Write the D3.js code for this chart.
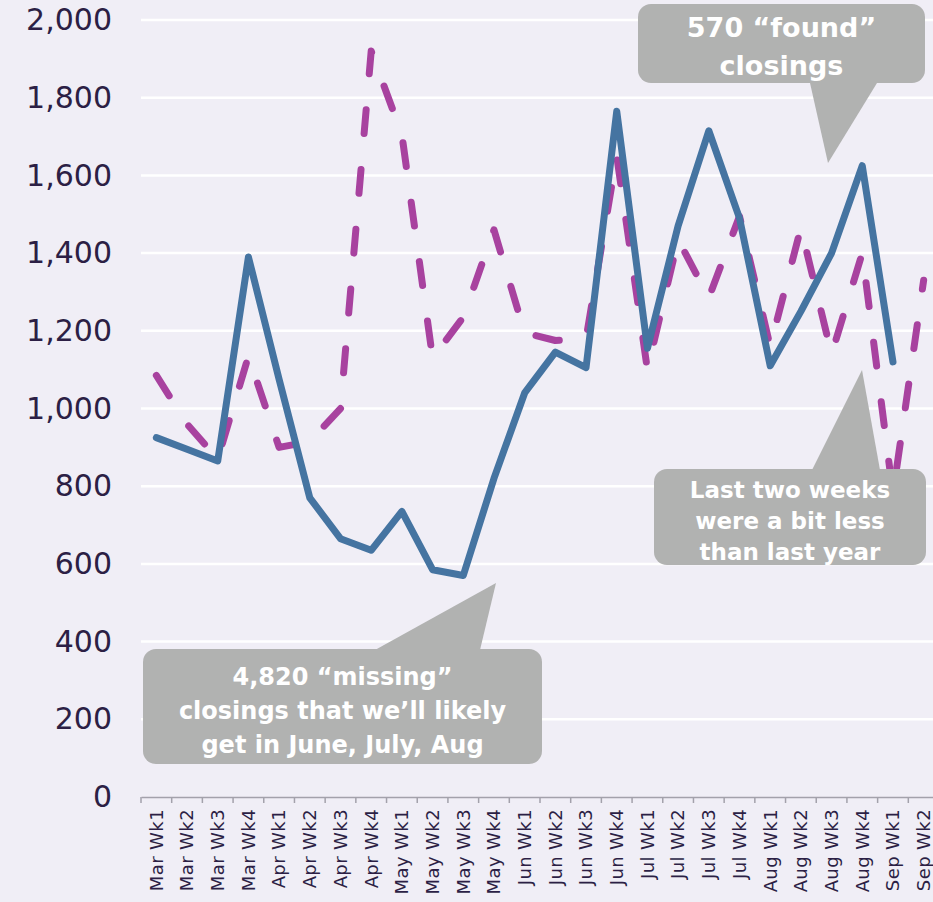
<!DOCTYPE html>
<html>
<head>
<meta charset="utf-8">
<script src="https://cdn.jsdelivr.net/npm/d3@7"></script>
<style>
  html, body { margin: 0; padding: 0; background: #f0eef6; overflow: hidden; }
  svg { display: block; }
</style>
</head>
<body>
<svg></svg>
<script>
const w = 933;
const h = 902;

const weeks = [
  'Mar Wk1', 'Mar Wk2', 'Mar Wk3', 'Mar Wk4',
  'Apr Wk1', 'Apr Wk2', 'Apr Wk3', 'Apr Wk4',
  'May Wk1', 'May Wk2', 'May Wk3', 'May Wk4',
  'Jun Wk1', 'Jun Wk2', 'Jun Wk3', 'Jun Wk4',
  'Jul Wk1', 'Jul Wk2', 'Jul Wk3', 'Jul Wk4',
  'Aug Wk1', 'Aug Wk2', 'Aug Wk3', 'Aug Wk4',
  'Sep Wk1', 'Sep Wk2'
];
// this year (solid blue)
const thisYear = [925, 895, 865, 1390, 1075, 770, 665, 635, 735, 585, 570, 820,
  1040, 1145, 1105, 1765, 1155, 1470, 1715, 1490, 1110, 1250, 1400, 1625, 1120, null];
// last year (dashed purple)
const lastYear = [1085, 960, 870, 1135, 900, 915, 1000, 1920, 1705, 1130, 1235, 1460,
  1195, 1175, 1180, 1650, 1100, 1435, 1285, 1495, 1160, 1465, 1140, 1400, 780, 1330];
const yTicks = [0, 200, 400, 600, 800, 1000, 1200, 1400, 1600, 1800, 2000];

const svg = d3.select('svg').attr('width', w).attr('height', h);

const x = d3.scaleBand().domain(weeks).range([141, 939]).padding(0);
const y = d3.scaleLinear().domain([0, 2000]).range([797, 20]);
const cx = i => x(weeks[i]) + x.bandwidth() / 2;

// background
svg.append('rect').attr('width', w).attr('height', h).attr('fill', '#f0eef6');

// gridlines
svg.append('g')
  .selectAll('line')
  .data(yTicks.filter(d => d > 0))
  .enter()
  .append('line')
  .attr('x1', 141)
  .attr('x2', w)
  .attr('y1', d => y(d))
  .attr('y2', d => y(d))
  .attr('stroke', '#ffffff')
  .attr('stroke-width', 2.5);

// y labels
const yAxis = d3.axisLeft(y).tickValues(yTicks).tickSize(0).tickPadding(0).tickFormat(d3.format(','));
svg.append('g')
  .attr('transform', 'translate(112,0)')
  .call(yAxis)
  .call(g => g.select('.domain').remove())
  .selectAll('text')
  .attr('fill', '#2c1f45')
  .style('font-family', 'DejaVu Sans')
  .style('font-size', '30px');

// x axis
const xAxis = d3.axisBottom(x).tickSize(0).tickPadding(0);
const gx = svg.append('g').attr('transform', 'translate(0,797)').call(xAxis);
gx.select('.domain').attr('stroke', '#a3a1ab').attr('stroke-width', 1.5);
gx.selectAll('text')
  .attr('transform', 'rotate(-90)')
  .attr('x', -12)
  .attr('y', 0)
  .attr('dy', '0.35em')
  .style('text-anchor', 'end')
  .attr('fill', '#2c1f45')
  .style('font-family', 'DejaVu Sans')
  .style('font-size', '18px')
  .style('letter-spacing', '0.4px');
gx.selectAll('.bound')
  .data(weeks.map(d => x(d)).concat([x(weeks[weeks.length - 1]) + x.bandwidth()]))
  .enter()
  .append('line')
  .attr('class', 'bound')
  .attr('x1', d => d)
  .attr('x2', d => d)
  .attr('y1', 0)
  .attr('y2', 6)
  .attr('stroke', '#a3a1ab')
  .attr('stroke-width', 1.5);

// lines
const line = d3.line()
  .defined(d => d != null)
  .x((d, i) => cx(i))
  .y(d => y(d));

svg.append('path')
  .datum(lastYear)
  .attr('d', line)
  .attr('fill', 'none')
  .attr('stroke', '#a8429f')
  .attr('stroke-width', 7)
  .attr('stroke-linecap', 'round')
  .attr('stroke-linejoin', 'round')
  .attr('stroke-dasharray', '24 36');

svg.append('path')
  .datum(thisYear)
  .attr('d', line)
  .attr('fill', 'none')
  .attr('stroke', '#4574a1')
  .attr('stroke-width', 7)
  .attr('stroke-linecap', 'round')
  .attr('stroke-linejoin', 'round');

// callouts
const callouts = [
  { box: [638, 4, 287, 79], ptr: [[810, 83], [877, 83], [828, 163]],
    lines: ['570 \u201cfound\u201d', 'closings'], y0: 37, lh: 38, size: 27 },
  { box: [143, 649, 399, 115], ptr: [[375, 650], [480, 650], [496, 583]],
    lines: ['4,820 \u201cmissing\u201d', 'closings that we\u2019ll likely', 'get in June, July, Aug'], y0: 685, lh: 34, size: 24 },
  { box: [654, 469, 272, 96], ptr: [[812, 470], [880, 470], [862, 370]],
    lines: ['Last two weeks', 'were a bit less', 'than last year'], y0: 498, lh: 31, size: 23 }
];

callouts.forEach(c => {
  const g = svg.append('g');
  g.append('path')
    .attr('d', 'M' + c.ptr.join('L') + 'Z')
    .attr('fill', '#b1b2b1');
  g.append('rect')
    .attr('x', c.box[0])
    .attr('y', c.box[1])
    .attr('width', c.box[2])
    .attr('height', c.box[3])
    .attr('rx', 13)
    .attr('fill', '#b1b2b1');
  g.selectAll('text')
    .data(c.lines)
    .enter()
    .append('text')
    .text(d => d)
    .attr('x', c.box[0] + c.box[2] / 2)
    .attr('y', (d, i) => c.y0 + i * c.lh)
    .attr('text-anchor', 'middle')
    .attr('fill', '#ffffff')
    .style('font-family', 'DejaVu Sans')
    .style('font-weight', 'bold')
    .style('font-size', c.size + 'px');
});
</script>
</body>
</html>
